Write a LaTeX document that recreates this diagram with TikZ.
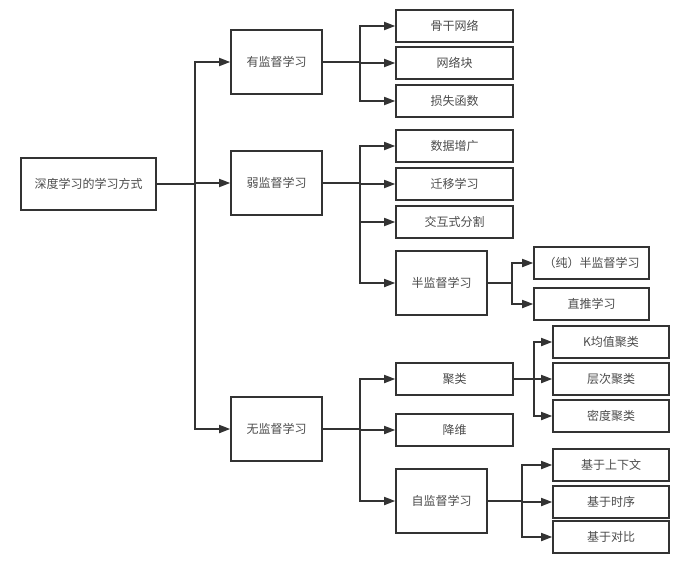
\documentclass[tikz,border=0pt]{standalone}
\usepackage{fontspec}
\usepackage{tikz}
\usetikzlibrary{positioning,arrows.meta}
\newfontfamily\cjk{Noto Sans CJK SC}

\tikzset{
	box/.style={draw=black!80, line width=1.6pt, rectangle, inner sep=0pt,
		text=black!70, font=\cjk\fontsize{12}{14}\selectfont},
	big/.style={box, minimum width=91pt, minimum height=64pt},
	small/.style={box, minimum width=117pt, minimum height=32pt}
}

\begin{document}
\begin{tikzpicture}[x=1pt, y=-1pt, ->, >={Triangle[length=11pt,width=8pt]}, line width=1.7pt, draw=black!80]
		\useasboundingbox[fill=white] (0,0) rectangle (690,565);

		% root and first level
		\node[box, minimum width=135pt, minimum height=52pt](n_0) at (88.5,184){深度学习的学习方式};
		\node[big](n_1) at (276.5,62){有监督学习};
		\node[big](n_2) at (276.5,183){弱监督学习};
		\node[big](n_3) at (276.5,429){无监督学习};

		% supervised
		\node[small](n_11) at (454.5,26){骨干网络};
		\node[small](n_12) at (454.5,63){网络块};
		\node[small](n_13) at (454.5,101){损失函数};

		% weakly supervised
		\node[small](n_21) at (454.5,146){数据增广};
		\node[small](n_22) at (454.5,184){迁移学习};
		\node[small](n_23) at (454.5,222){交互式分割};
		\node[big](n_24) at (441.5,283){半监督学习};
		\node[small, minimum width=115pt](n_241) at (591.5,263){（纯）半监督学习};
		\node[small, minimum width=115pt](n_242) at (591.5,304){直推学习};

		% unsupervised
		\node[small](n_31) at (454.5,379){聚类};
		\node[small](n_32) at (454.5,430){降维};
		\node[big](n_33) at (441.5,501){自监督学习};
		\node[small, minimum width=116pt](n_311) at (611,342){K均值聚类};
		\node[small, minimum width=116pt](n_312) at (611,379){层次聚类};
		\node[small, minimum width=116pt](n_313) at (611,416){密度聚类};
		\node[small, minimum width=116pt](n_331) at (611,465){基于上下文};
		\node[small, minimum width=116pt](n_332) at (611,502){基于时序};
		\node[small, minimum width=116pt](n_333) at (611,537){基于对比};

		\draw (n_0.east) -- ++(38,0) |- (n_1.west);
		\draw (n_0.east) -- ++(38,0) |- (n_2.west);
		\draw (n_0.east) -- ++(38,0) |- (n_3.west);

		\draw (n_1.east) -- ++(37,0) |- (n_11.west);
		\draw (n_1.east) -- ++(37,0) |- (n_12.west);
		\draw (n_1.east) -- ++(37,0) |- (n_13.west);

		\draw (n_2.east) -- ++(37,0) |- (n_21.west);
		\draw (n_2.east) -- ++(37,0) |- (n_22.west);
		\draw (n_2.east) -- ++(37,0) |- (n_23.west);
		\draw (n_2.east) -- ++(37,0) |- (n_24.west);
		\draw (n_24.east) -- ++(24,0) |- (n_241.west);
		\draw (n_24.east) -- ++(24,0) |- (n_242.west);

		\draw (n_3.east) -- ++(37,0) |- (n_31.west);
		\draw (n_3.east) -- ++(37,0) |- (n_32.west);
		\draw (n_3.east) -- ++(37,0) |- (n_33.west);
		\draw (n_31.east) -- ++(20,0) |- (n_311.west);
		\draw (n_31.east) -- ++(20,0) |- (n_312.west);
		\draw (n_31.east) -- ++(20,0) |- (n_313.west);
		\draw (n_33.east) -- ++(34,0) |- (n_331.west);
		\draw (n_33.east) -- ++(34,0) |- (n_332.west);
		\draw (n_33.east) -- ++(34,0) |- (n_333.west);
	\end{tikzpicture}
\end{document}
